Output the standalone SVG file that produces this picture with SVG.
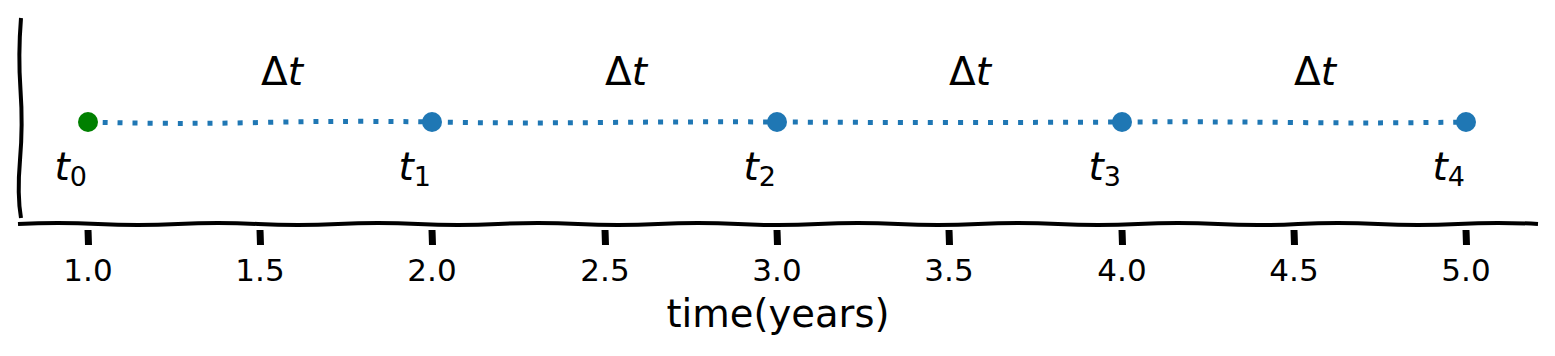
<svg xmlns="http://www.w3.org/2000/svg" width="1555" height="356" viewBox="0 0 1555 356">
<style>
.spine{fill:none;stroke:#000;stroke-width:4;stroke-linecap:butt}
.tick{stroke:#000;stroke-width:7}
.tl{font-family:"DejaVu Sans",sans-serif;font-size:31px;fill:#000;text-anchor:middle}
.lbl{font-family:"DejaVu Sans",sans-serif;font-size:39px;fill:#000}
.it{font-style:italic}
.sub{font-size:27px}
.dt{fill:#1f77b4}
</style>
<rect width="1555" height="356" fill="#fff"/>
<g id="axes">
<path class="spine" d="M21 18 Q18 55 20.5 90 T20 160 T21 218"/>
<path class="spine" d="M18 224 Q58 221.8 98 224 T178 224 T258 224 T338 224 T418 224 T498 224 T578 224 T658 224 T738 224 T818 224 T898 224 T978 224 T1058 224 T1138 224 T1218 224 T1298 224 T1378 224 T1458 224 T1538 224"/>
<g id="ticks">
<line class="tick" x1="88" y1="230" x2="88.5" y2="245"/>
<line class="tick" x1="260" y1="230" x2="260.5" y2="245"/>
<line class="tick" x1="432" y1="230" x2="432.5" y2="245"/>
<line class="tick" x1="605" y1="230" x2="605.5" y2="245"/>
<line class="tick" x1="777" y1="230" x2="777.5" y2="245"/>
<line class="tick" x1="949" y1="230" x2="949.5" y2="245"/>
<line class="tick" x1="1122" y1="230" x2="1122.5" y2="245"/>
<line class="tick" x1="1294" y1="230" x2="1294.5" y2="245"/>
<line class="tick" x1="1466" y1="230" x2="1466.5" y2="245"/>
</g>
<g id="ticklabels">
<text class="tl" x="88" y="281">1.0</text>
<text class="tl" x="260" y="281">1.5</text>
<text class="tl" x="432" y="281">2.0</text>
<text class="tl" x="605" y="281">2.5</text>
<text class="tl" x="777" y="281">3.0</text>
<text class="tl" x="949" y="281">3.5</text>
<text class="tl" x="1122" y="281">4.0</text>
<text class="tl" x="1294" y="281">4.5</text>
<text class="tl" x="1466" y="281">5.0</text>
</g>
<text id="xlabel" x="778" y="327" font-family="DejaVu Sans, sans-serif" font-size="38.5" text-anchor="middle">time(years)</text>
</g>
<g id="connectors">
<path d="M88 122 Q170 124.5 260 122.5 T432 122 T605 122.5 T777 122 T949 122.5 T1122 122 T1294 122.5 T1466 122" fill="none" stroke="#1f77b4" stroke-width="5" stroke-dasharray="5 10"/>
</g>
<g id="node-t0"><circle cx="88" cy="122" r="10" fill="#008000"/><text class="lbl" x="87" y="180" text-anchor="end"><tspan class="it">t</tspan><tspan class="sub" dy="6">0</tspan></text></g>
<g id="node-t1"><circle class="dt" cx="432" cy="122" r="10"/><text class="lbl" x="431" y="180" text-anchor="end"><tspan class="it">t</tspan><tspan class="sub" dy="6">1</tspan></text></g>
<g id="node-t2"><circle class="dt" cx="777" cy="122" r="10"/><text class="lbl" x="776" y="180" text-anchor="end"><tspan class="it">t</tspan><tspan class="sub" dy="6">2</tspan></text></g>
<g id="node-t3"><circle class="dt" cx="1122" cy="122" r="10"/><text class="lbl" x="1121" y="180" text-anchor="end"><tspan class="it">t</tspan><tspan class="sub" dy="6">3</tspan></text></g>
<g id="node-t4"><circle class="dt" cx="1466" cy="122" r="10"/><text class="lbl" x="1465" y="180" text-anchor="end"><tspan class="it">t</tspan><tspan class="sub" dy="6">4</tspan></text></g>
<g id="deltas">
<text class="lbl" x="261" y="85">Δ<tspan class="it">t</tspan></text>
<text class="lbl" x="605" y="85">Δ<tspan class="it">t</tspan></text>
<text class="lbl" x="949" y="85">Δ<tspan class="it">t</tspan></text>
<text class="lbl" x="1294" y="85">Δ<tspan class="it">t</tspan></text>
</g>
</svg>
